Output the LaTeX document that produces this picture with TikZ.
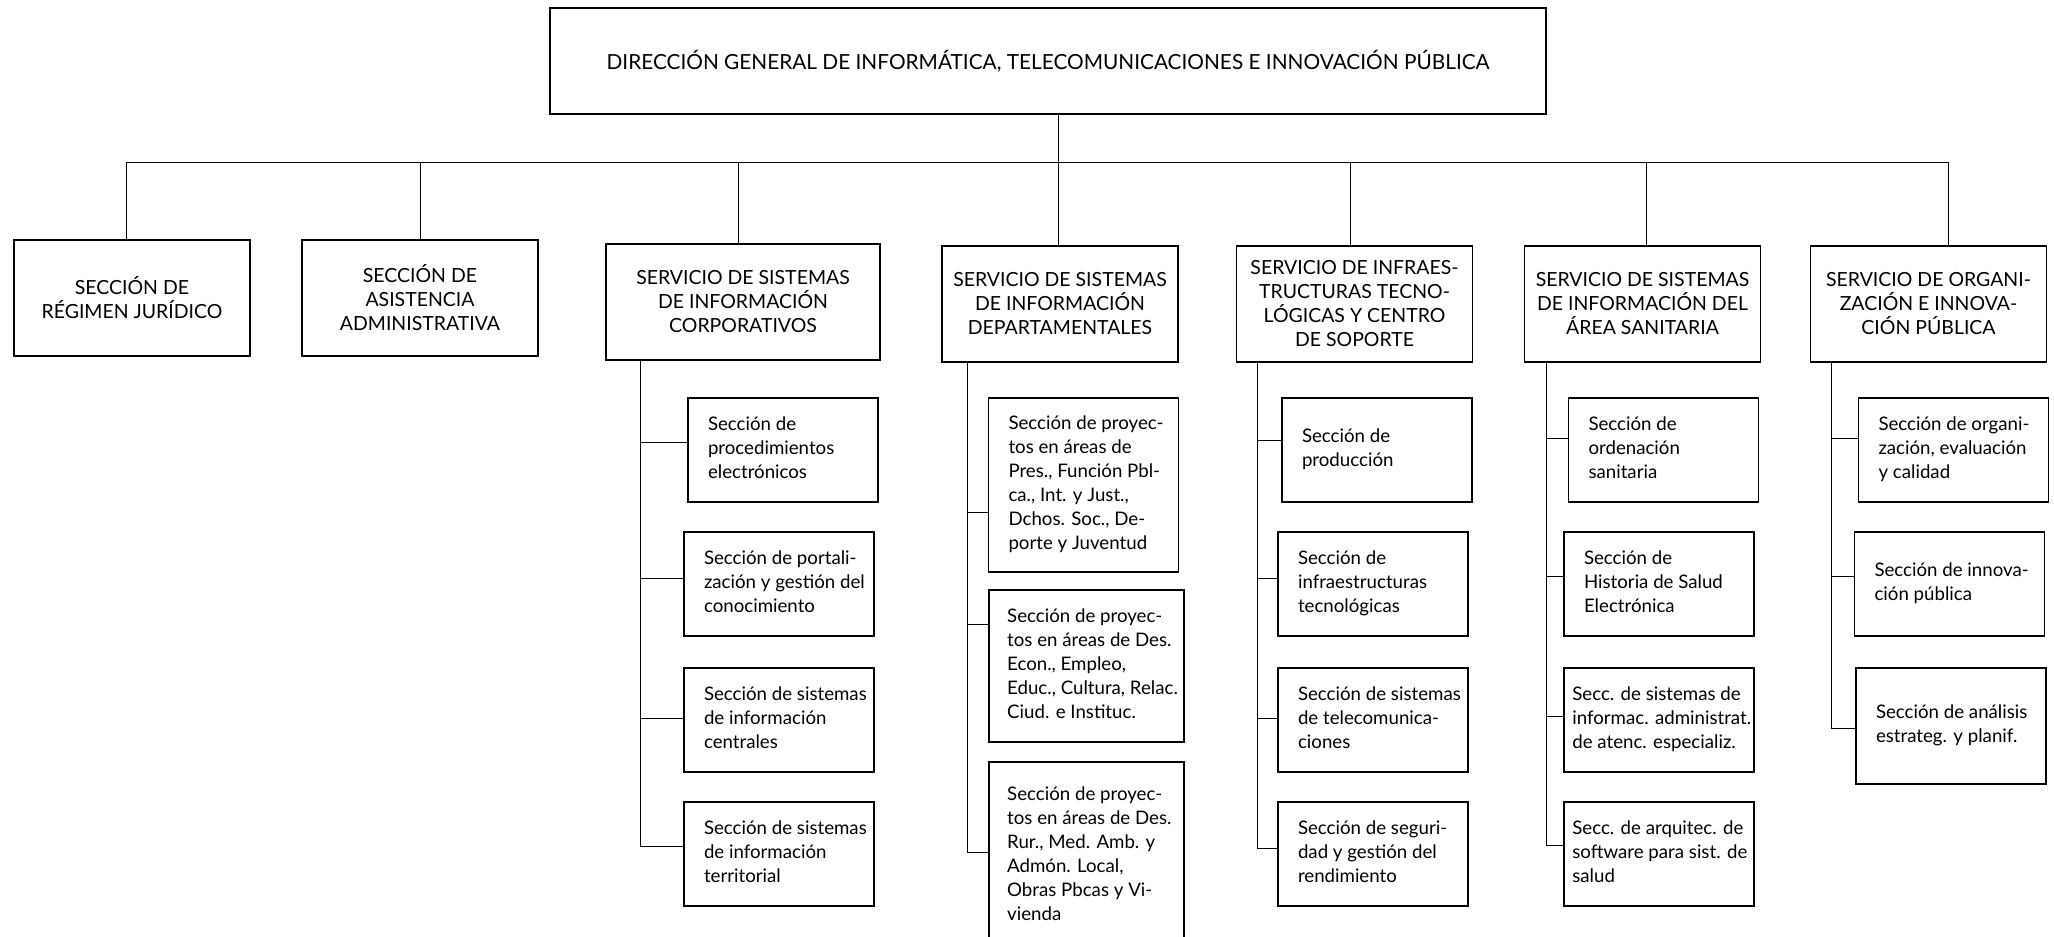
\documentclass[tikz,border=0pt]{standalone}
\usepackage{fontspec}
\setmainfont{Lato}
\tikzset{every picture/.style={line width=0.75pt}}
\newcommand\subtxt[2][11.25pt]{\makebox[135pt][l]{\hspace*{#1}\begin{tabular}{@{}l@{}}#2\end{tabular}}}
\tikzset{
  topbox/.style={draw, line width=0.9pt, align=center, minimum width=747pt, minimum height=79.5pt, font=\fontsize{15.6}{18}\selectfont},
  headbox/.style={draw, line width=0.9pt, align=center, minimum width=177pt, minimum height=87pt, inner sep=2pt, font=\fontsize{14.6}{18}\selectfont},
  subbox/.style={draw, line width=0.9pt, minimum width=142.5pt, minimum height=78pt, inner sep=3.75pt, font=\fontsize{14}{18}\selectfont},
}
\begin{document}
\begin{tikzpicture}[x=0.75pt,y=0.75pt,yscale=-1,xscale=1]
\useasboundingbox (0,0) rectangle (2054,936);
\clip (0,0) rectangle (2054,936);

%Direccion general
\node[topbox] (dg) at (1048,61) {DIRECCIÓN GENERAL DE INFORMÁTICA, TELECOMUNICACIONES E INNOVACIÓN PÚBLICA};

%Secciones y servicios
\node[headbox] (srj) at (132,298) {SECCIÓN DE\\RÉGIMEN JURÍDICO};
\node[headbox] (saa) at (420,298) {SECCIÓN DE\\ASISTENCIA\\ADMINISTRATIVA};
\node[headbox, minimum width=205.5pt] (ssic) at (743,302) {SERVICIO DE SISTEMAS\\DE INFORMACIÓN\\CORPORATIVOS};
\node[headbox] (ssid) at (1060,304) {SERVICIO DE SISTEMAS\\DE INFORMACIÓN\\DEPARTAMENTALES};
\node[headbox] (sitc) at (1354.5,304) {SERVICIO DE INFRAES-\\TRUCTURAS TECNO-\\LÓGICAS Y CENTRO\\DE SOPORTE};
\node[headbox] (ssias) at (1642.5,304) {SERVICIO DE SISTEMAS\\DE INFORMACIÓN DEL\\ÁREA SANITARIA};
\node[headbox] (soip) at (1928.5,304) {SERVICIO DE ORGANI-\\ZACIÓN E INNOVA-\\CIÓN PÚBLICA};

%Corporativos
\node[subbox] (c1) at (783,450) {\subtxt{Sección de\\procedimientos\\electrónicos}};
\node[subbox] (c2) at (779,584) {\subtxt{Sección de portali-\\zación y gestión del\\conocimiento}};
\node[subbox] (c3) at (779,720) {\subtxt{Sección de sistemas\\de información\\centrales}};
\node[subbox] (c4) at (779,854) {\subtxt{Sección de sistemas\\de información\\territorial}};

%Departamentales
\node[subbox, minimum width=141.75pt, minimum height=130.5pt] (d1) at (1083.5,485) {\subtxt{Sección de proyec-\\tos en áreas de\\Pres., Función Pbl-\\ca., Int. y Just.,\\Dchos. Soc., De-\\porte y Juventud}};
\node[subbox, minimum width=146.25pt, minimum height=114pt] (d2) at (1086.5,666) {\subtxt[8pt]{Sección de proyec-\\tos en áreas de Des.\\Econ., Empleo,\\Educ., Cultura, Relac.\\Ciud. e Instituc.}};
\node[subbox, minimum width=146.25pt, minimum height=141pt] (d3) at (1086.5,856) {\subtxt[8pt]{Sección de proyec-\\tos en áreas de Des.\\Rur., Med. Amb. y\\Admón. Local,\\Obras Pbcas y Vi-\\vienda}};

%Infraestructuras
\node[subbox] (e1) at (1377,450) {\subtxt{Sección de\\producción}};
\node[subbox] (e2) at (1373,584) {\subtxt{Sección de\\infraestructuras\\tecnológicas}};
\node[subbox] (e3) at (1373,720) {\subtxt{Sección de sistemas\\de telecomunica-\\ciones}};
\node[subbox] (e4) at (1373,854) {\subtxt{Sección de seguri-\\dad y gestión del\\rendimiento}};

%Area sanitaria
\node[subbox] (f1) at (1663.5,450) {\subtxt{Sección de\\ordenación\\sanitaria}};
\node[subbox] (f2) at (1659,584) {\subtxt{Sección de\\Historia de Salud\\Electrónica}};
\node[subbox] (f3) at (1659,720) {\subtxt[2.5pt]{Secc. de sistemas de\\informac. administrat.\\de atenc. especializ.}};
\node[subbox] (f4) at (1659,854) {\subtxt[2.5pt]{Secc. de arquitec. de\\software para sist. de\\salud}};

%Organizacion
\node[subbox] (g1) at (1953.5,450) {\subtxt{Sección de organi-\\zación, evaluación\\y calidad}};
\node[subbox] (g2) at (1949.5,584) {\subtxt{Sección de innova-\\ción pública}};
\node[subbox, minimum height=87pt] (g3) at (1951,726) {\subtxt{Sección de análisis\\estrateg. y planif.}};

%Lineas
\foreach \n/\x in {srj/126, saa/420, ssic/738, ssid/1058, sitc/1350, ssias/1646, soip/1948}
  \coordinate (b\n) at (\x,162);
\draw (dg.south -| bssid) -- (bssid);
\draw (bsrj) -- (bsoip);
\foreach \n in {srj, saa, ssic, ssid, sitc, ssias, soip}
  \draw (b\n) -- (b\n |- \n.north);

\coordinate (tc) at ([xshift=26.25pt]ssic.south west);
\coordinate (td) at ([xshift=19.5pt]ssid.south west);
\coordinate (te) at ([xshift=16pt]sitc.south west);
\coordinate (tf) at ([xshift=17.25pt]ssias.south west);
\coordinate (tg) at ([xshift=16.5pt]soip.south west);
\foreach \b/\t/\s in {c1/tc/-6, c2/tc/-4.5, c3/tc/-1.5, c4/tc/-6,
    d1/td/20.25, d2/td/-31.5, d3/td/-3,
    e1/te/-7.5, e2/te/-4.5, e3/te/-1.5, e4/te/-4.5,
    f1/tf/-9, f2/tf/-6, f3/tf/-3, f4/tf/-6.75,
    g1/tg/-9, g2/tg/-6, g3/tg/1.5}
  \draw ([yshift=\s pt]\b.west) -| (\t);
\end{tikzpicture}
\end{document}
